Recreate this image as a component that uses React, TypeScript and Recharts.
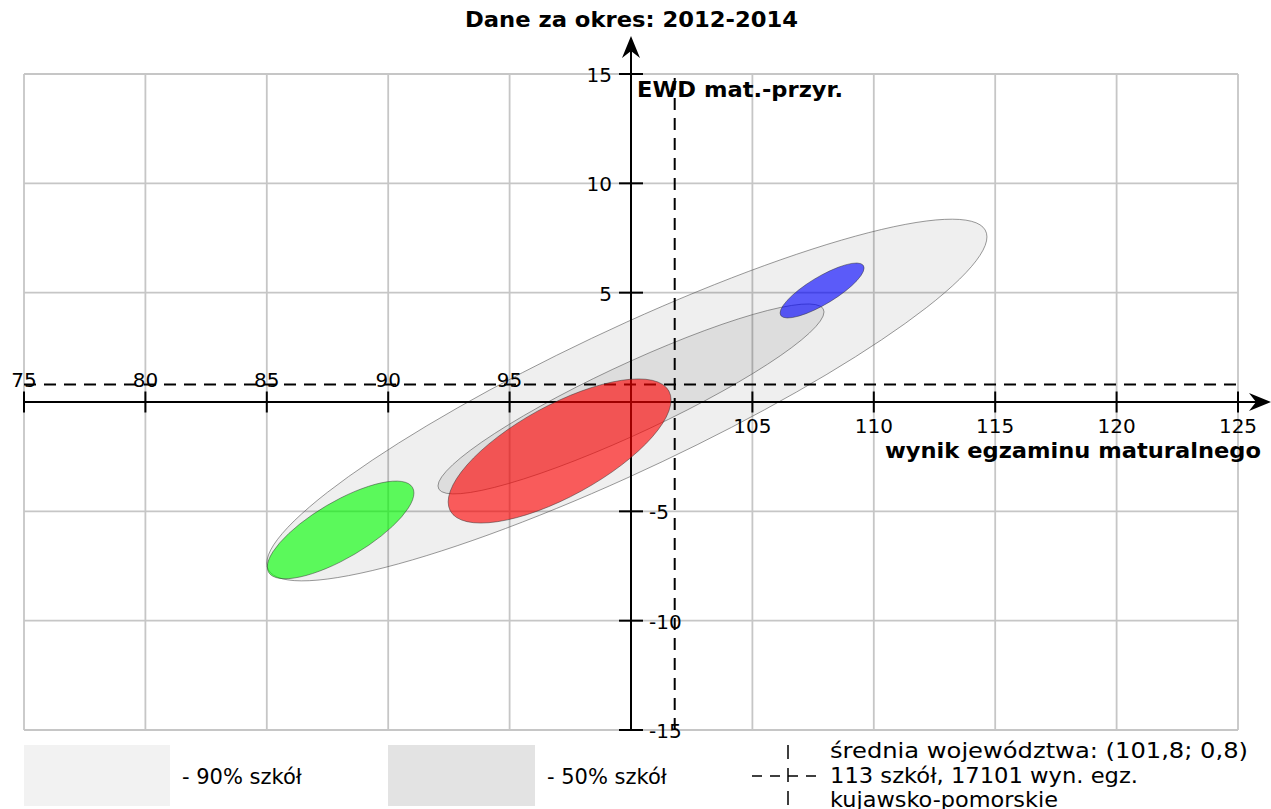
import { CartesianGrid, Scatter, ScatterChart, XAxis, YAxis } from "recharts";

const X_TICKS = [75, 80, 85, 90, 95, 100, 105, 110, 115, 120, 125];
const Y_TICKS = [-15, -10, -5, 0, 5, 10, 15];
const X_LABELS = [75, 80, 85, 90, 95, 105, 110, 115, 120, 125];
const Y_LABELS = [15, 10, 5, -5, -10, -15];

// średnia województwa
const MEAN_X = 101.8;
const MEAN_Y = 0.8;

// Each ellipse: [centre, point with max x, point straight above the centre]
const ELLIPSE_90 = [
  { x: 99.83, y: 0.09 },
  { x: 114.66, y: 7.55 },
  { x: 99.83, y: 3.66 },
];
const ELLIPSE_50 = [
  { x: 100.0, y: 0.14 },
  { x: 107.95, y: 4.12 },
  { x: 100.0, y: 1.88 },
];
const ELLIPSE_GREEN = [
  { x: 88.04, y: -5.85 },
  { x: 91.06, y: -4.16 },
  { x: 88.04, y: -4.39 },
];
const ELLIPSE_RED = [
  { x: 97.06, y: -2.24 },
  { x: 101.65, y: 0.09 },
  { x: 97.06, y: 0.09 },
];
const ELLIPSE_BLUE = [
  { x: 107.87, y: 5.1 },
  { x: 109.6, y: 6.13 },
  { x: 107.87, y: 5.82 },
];

const W = 1271;
const H = 809;
const FONT = "'DejaVu Sans', sans-serif";

const noDot = () => <g />;

function ellipseLine(fill: string, fillOpacity: number, stroke: string, strokeOpacity: number) {
  return (props: any) => {
    const [c, r, t] = props.points;
    const m = `matrix(${r.x - c.x} ${r.y - c.y} ${t.x - c.x} ${t.y - c.y} ${c.x} ${c.y})`;
    return (
      <ellipse
        cx={0}
        cy={0}
        rx={1}
        ry={1}
        transform={m}
        fill={fill}
        fillOpacity={fillOpacity}
        stroke={stroke}
        strokeOpacity={strokeOpacity}
        strokeWidth={1}
        vectorEffect="non-scaling-stroke"
      />
    );
  };
}

function dashedLine(props: any) {
  const [a, b] = props.points;
  return <line x1={a.x} y1={a.y} x2={b.x} y2={b.y} stroke="#000" strokeWidth={2} strokeDasharray="12 8" />;
}

function arrowLine(ext: number) {
  return (props: any) => {
    const [a, b] = props.points;
    const dx = b.x - a.x;
    const dy = b.y - a.y;
    const len = Math.hypot(dx, dy);
    const ux = dx / len;
    const uy = dy / len;
    const nx = -uy;
    const ny = ux;
    const tx = b.x + ux * ext;
    const ty = b.y + uy * ext;
    const L = 22;
    const hw = 9;
    const notch = 7;
    const pts = [
      [tx, ty],
      [tx - ux * L + nx * hw, ty - uy * L + ny * hw],
      [tx - ux * (L - notch), ty - uy * (L - notch)],
      [tx - ux * L - nx * hw, ty - uy * L - ny * hw],
    ]
      .map((p) => p.join(","))
      .join(" ");
    return (
      <g>
        <line x1={a.x} y1={a.y} x2={tx - ux * (L - notch)} y2={ty - uy * (L - notch)} stroke="#000" strokeWidth={2} />
        <polygon points={pts} fill="#000" />
      </g>
    );
  };
}

function XTick(props: any) {
  const { cx, cy, payload } = props;
  const below = payload.x > 100;
  return (
    <g>
      <line x1={cx} x2={cx} y1={cy - 10.5} y2={cy + 10.5} stroke="#000" strokeWidth={2} />
      <text x={cx} y={below ? cy + 31 : cy - 15} textAnchor="middle" fontFamily={FONT} fontSize={20} fill="#000">
        {payload.x}
      </text>
    </g>
  );
}

function YTick(props: any) {
  const { cx, cy, payload } = props;
  const right = payload.y < 0;
  return (
    <g>
      <line x1={cx - 12} x2={cx + 12} y1={cy} y2={cy} stroke="#000" strokeWidth={2} />
      <text
        x={right ? cx + 18 : cx - 19}
        y={cy + 8}
        textAnchor={right ? "start" : "end"}
        fontFamily={FONT}
        fontSize={20}
        fill="#000"
      >
        {payload.y}
      </text>
    </g>
  );
}

export default function App() {
  const xTickData = X_LABELS.map((v) => ({ x: v, y: 0 }));
  const yTickData = Y_LABELS.map((v) => ({ x: 100, y: v }));

  return (
    <div style={{ position: "relative", width: W, height: H, background: "#fff", fontFamily: FONT }}>
      <style>{`body{margin:0}`}</style>
      <ScatterChart width={W} height={H} margin={{ top: 74, right: 33, bottom: 79, left: 24 }}>
        <CartesianGrid stroke="#c6c6c6" strokeWidth={1.8} />
        <XAxis type="number" dataKey="x" domain={[75, 125]} ticks={X_TICKS} hide />
        <YAxis type="number" dataKey="y" domain={[-15, 15]} ticks={Y_TICKS} hide />

        <Scatter data={ELLIPSE_90} shape={noDot} line={ellipseLine("#000", 0.063, "#555", 0.6)} isAnimationActive={false} />
        <Scatter data={ELLIPSE_50} shape={noDot} line={ellipseLine("#000", 0.075, "#555", 0.6)} isAnimationActive={false} />

        <Scatter data={[{ x: 75, y: MEAN_Y }, { x: 125, y: MEAN_Y }]} shape={noDot} line={dashedLine} isAnimationActive={false} />
        <Scatter data={[{ x: MEAN_X, y: -15 }, { x: MEAN_X, y: 15 }]} shape={noDot} line={dashedLine} isAnimationActive={false} />

        <Scatter data={[{ x: 75, y: 0 }, { x: 125, y: 0 }]} shape={noDot} line={arrowLine(33)} isAnimationActive={false} />
        <Scatter data={[{ x: 100, y: -15 }, { x: 100, y: 15 }]} shape={noDot} line={arrowLine(38)} isAnimationActive={false} />
        <Scatter data={xTickData} shape={XTick} isAnimationActive={false} />
        <Scatter data={yTickData} shape={YTick} isAnimationActive={false} />

        <Scatter data={ELLIPSE_GREEN} shape={noDot} line={ellipseLine("#00ff00", 0.62, "#333", 0.5)} isAnimationActive={false} />
        <Scatter data={ELLIPSE_RED} shape={noDot} line={ellipseLine("#ff0000", 0.62, "#333", 0.5)} isAnimationActive={false} />
        <Scatter data={ELLIPSE_BLUE} shape={noDot} line={ellipseLine("#0000ff", 0.62, "#333", 0.5)} isAnimationActive={false} />
      </ScatterChart>

      <svg width={W} height={H} style={{ position: "absolute", left: 0, top: 0, pointerEvents: "none" }}>
        <g fontFamily={FONT} fill="#000">
          <text x={465} y={27} fontSize={21} fontWeight="bold" textLength={333} lengthAdjust="spacingAndGlyphs">
            Dane za okres: 2012-2014
          </text>
          <text x={637} y={97} fontSize={21} fontWeight="bold" textLength={206} lengthAdjust="spacingAndGlyphs">
            EWD mat.-przyr.
          </text>
          <text x={885} y={458} fontSize={21} fontWeight="bold" textLength={376} lengthAdjust="spacingAndGlyphs">
            wynik egzaminu maturalnego
          </text>

          <rect x={24} y={745} width={146} height={61} fill="#f2f2f2" />
          <text x={182} y={784} fontSize={21}>
            - 90% szkół
          </text>
          <rect x={388} y={745} width={147} height={61} fill="#e3e3e3" />
          <text x={547} y={784} fontSize={21}>
            - 50% szkół
          </text>
          <line x1={788} y1={745} x2={788} y2={807} stroke="#000" strokeWidth={1.5} strokeDasharray="14 9" />
          <line x1={752} y1={776} x2={822} y2={776} stroke="#000" strokeWidth={1.5} strokeDasharray="10 8" />
          <text x={830} y={758} fontSize={21} textLength={418} lengthAdjust="spacingAndGlyphs">
            średnia województwa: (101,8; 0,8)
          </text>
          <text x={830} y={783} fontSize={21} textLength={308} lengthAdjust="spacingAndGlyphs">
            113 szkół, 17101 wyn. egz.
          </text>
          <text x={830} y={807} fontSize={21} textLength={228} lengthAdjust="spacingAndGlyphs">
            kujawsko-pomorskie
          </text>
        </g>
      </svg>
    </div>
  );
}
